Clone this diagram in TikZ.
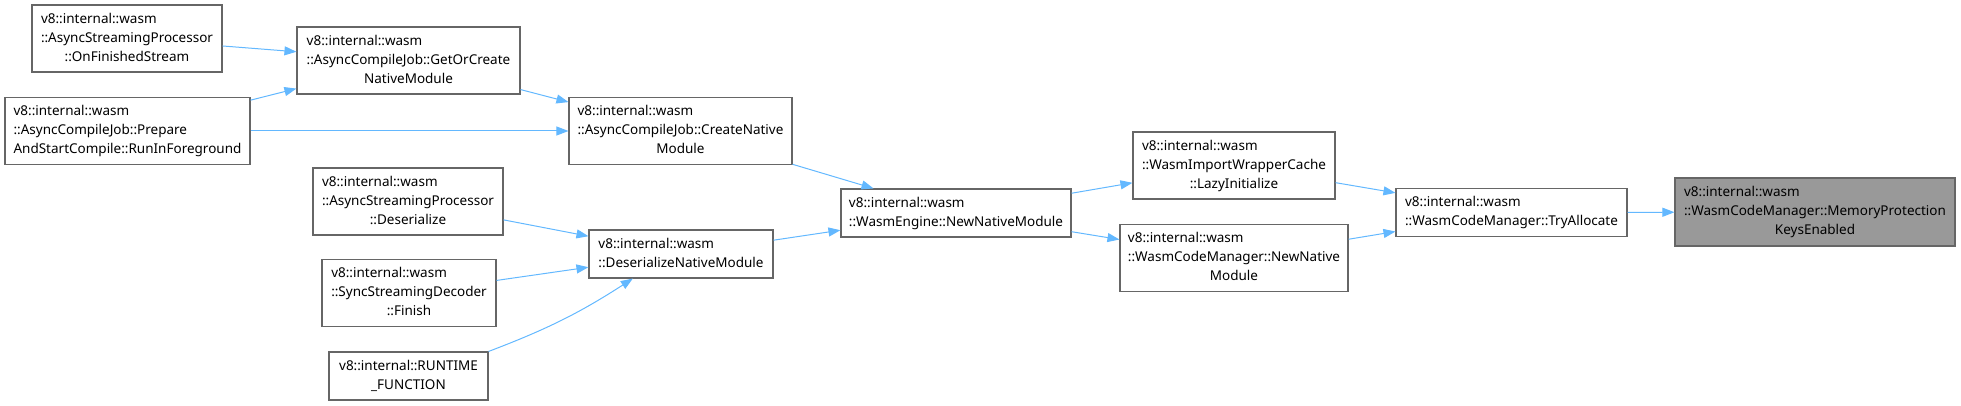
\documentclass[tikz,border=0pt]{standalone}
\usepackage{fontspec}
\setmainfont{Noto Sans}
\usetikzlibrary{arrows.meta,positioning}
\definecolor{edgeblue}{HTML}{63B8FF}
\definecolor{boxgrey}{HTML}{666666}
\definecolor{higrey}{HTML}{999999}
\tikzset{
  >=Triangle,
  fn/.style={rectangle, draw=boxgrey, line width=1.1pt, fill=white, inner sep=0pt,
             minimum height=67pt, font=\fontsize{13.5}{19}\selectfont},
  fnlow/.style={fn, minimum height=48pt},
  fnhi/.style={fn, fill=higrey},
  call/.style={-{Triangle[length=12pt,width=9pt]}, draw=edgeblue, line width=1pt}
}
% first lines flush left, last line centred
\newcommand{\fnlabel}[2]{\begin{tabular}{@{}l@{}}#1\\\multicolumn{1}{@{}c@{}}{#2}\end{tabular}}

\begin{document}
\begin{tikzpicture}[x=1pt, y=-1pt]
                \useasboundingbox (0,0) rectangle (1961,406);

                % --- Callers (left) ---
                \node[fn, minimum width=190pt] (ofs) at (127,38.5)
                  {\fnlabel{v8::internal::wasm\\::AsyncStreamingProcessor}{::OnFinishedStream}};
                \node[fn, minimum width=245pt] (prep) at (127.5,131)
                  {\fnlabel{v8::internal::wasm\\::AsyncCompileJob::Prepare}{AndStartCompile::RunInForeground}};
                \node[fn, minimum width=223pt] (goc) at (408.5,60.5)
                  {\fnlabel{v8::internal::wasm\\::AsyncCompileJob::GetOrCreate}{NativeModule}};
                \node[fn, minimum width=190pt] (aspd) at (408,201.5)
                  {\fnlabel{v8::internal::wasm\\::AsyncStreamingProcessor}{::Deserialize}};
                \node[fn, minimum width=174pt] (ssdf) at (409,293)
                  {\fnlabel{v8::internal::wasm\\::SyncStreamingDecoder}{::Finish}};
                \node[fnlow, minimum width=159pt] (rtf) at (408.5,376)
                  {\fnlabel{v8::internal::RUNTIME}{\_FUNCTION}};

                % --- Module creation ---
                \node[fn, minimum width=223pt] (cnm) at (680.5,131)
                  {\fnlabel{v8::internal::wasm\\::AsyncCompileJob::CreateNative}{Module}};
                \node[fnlow, minimum width=184pt] (dnm) at (681,254)
                  {\fnlabel{v8::internal::wasm}{::DeserializeNativeModule}};
                \node[fnlow, minimum width=230pt] (wenm) at (956,213)
                  {\fnlabel{v8::internal::wasm}{::WasmEngine::NewNativeModule}};

                % --- Code manager ---
                \node[fn, minimum width=202pt] (lazy) at (1234,165.5)
                  {\fnlabel{v8::internal::wasm\\::WasmImportWrapperCache}{::LazyInitialize}};
                \node[fn, minimum width=228pt] (wcmn) at (1234,258)
                  {\fnlabel{v8::internal::wasm\\::WasmCodeManager::NewNative}{Module}};
                \node[fnlow, minimum width=231pt] (try) at (1511.5,212.5)
                  {\fnlabel{v8::internal::wasm}{::WasmCodeManager::TryAllocate}};
                \node[fnhi, minimum width=280pt, minimum height=68pt] (mpke) at (1815,212)
                  {\fnlabel{v8::internal::wasm\\::WasmCodeManager::MemoryProtection}{KeysEnabled}};

                % --- Calls ---
                \draw[call] (ofs) -- (goc);
                \draw[call] (prep) -- (goc);
                \draw[call] (prep) -- (cnm);
                \draw[call] (goc) -- (cnm);
                \draw[call] (cnm) -- (wenm);
                \draw[call] (aspd) -- (dnm);
                \draw[call] (ssdf) -- (dnm);
                \draw[call] (rtf.north east) to[bend right=6] (dnm.207);
                \draw[call] (dnm) -- (wenm);
                \draw[call] (wenm) -- (lazy);
                \draw[call] (wenm) -- (wcmn);
                \draw[call] (lazy) -- (try);
                \draw[call] (wcmn) -- (try);
                \draw[call] (try) -- (mpke);
        \end{tikzpicture}
\end{document}
